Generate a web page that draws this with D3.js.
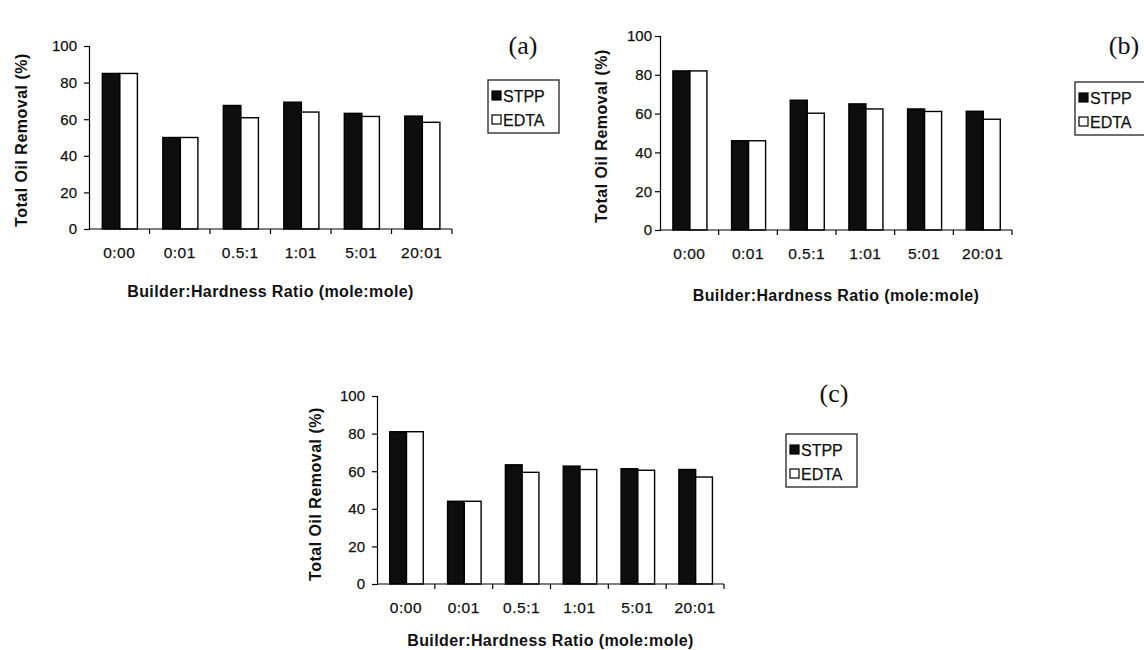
<!DOCTYPE html>
<html>
<head>
<meta charset="utf-8">
<script src="https://cdn.jsdelivr.net/npm/d3@7"></script>
<style>
body { margin: 0; background: #fff; }
svg { display: block; }
text { font-family: Arial, "Liberation Sans", sans-serif; fill: #111; }
.tick text, .leg-text { stroke: #111; stroke-width: 0.25px; }
</style>
</head>
<body>
<svg id="chart" width="1144" height="650"></svg>
<script>
var ratios = ["0:00", "0:01", "0.5:1", "1:01", "5:01", "20:01"];
var series = ["STPP", "EDTA"];
var yTicks = [0, 20, 40, 60, 80, 100];

// total oil removal (%)
var stppA = [85, 50, 67.5, 69.3, 63.2, 61.7];
var edtaA = [85, 50, 60.8, 63.9, 61.5, 58.3];
var stppB = [82, 46, 66.9, 65.0, 62.4, 61.2];
var edtaB = [82, 46, 60.2, 62.4, 61.1, 57.1];
var stppC = [81, 44, 63.4, 62.7, 61.3, 60.9];
var edtaC = [81, 44, 59.4, 60.9, 60.5, 56.9];

var panelNames = ["(a)", "(b)", "(c)"];

var svg = d3.select("#chart");
var fills = { STPP: "#0e0e0e", EDTA: "#ffffff" };

// frame of each panel: x extent of axis, y of 0 and 100, legend & label spots
var panels = [
	{ name: panelNames[0], stpp: stppA, edta: edtaA, x0: 89, x1: 452, yb: 229, yt: 46,
	  tickGap: 12, ylabX: 21, ylabY: 140, tickY: 259, titleY: 297,
	  leg: [488, 80], lab: [523, 54] },
	{ name: panelNames[1], stpp: stppB, edta: edtaB, x0: 660, x1: 1012, yb: 230, yt: 36,
	  tickGap: 8, ylabX: 601, ylabY: 136, tickY: 260, titleY: 301,
	  leg: [1075, 82], lab: [1124, 54] },
	{ name: panelNames[2], stpp: stppC, edta: edtaC, x0: 377, x1: 724, yb: 584, yt: 396,
	  tickGap: 12, ylabX: 315, ylabY: 494, tickY: 614, titleY: 646,
	  leg: [786, 434], lab: [834, 402] }
];

panels.forEach(drawPanel);

function drawPanel(p) {
	var g = svg.append("g");

	var x = d3.scaleBand().domain(ratios).range([p.x0, p.x1]);
	var xs = d3.scaleBand().domain(series)
		.range([x.bandwidth() * 0.22, x.bandwidth() * 0.8]);
	var y = d3.scaleLinear().domain([0, 100]).range([p.yb, p.yt]);

	var rows = ratios.map(function(r, i) {
		return { ratio: r, STPP: p.stpp[i], EDTA: p.edta[i] };
	});

	// bars
	var grp = g.selectAll(".grp").data(rows).enter().append("g")
		.attr("transform", function(d) { return "translate(" + x(d.ratio) + ",0)"; });
	grp.selectAll("rect")
		.data(function(d) { return series.map(function(s) { return { key: s, value: d[s] }; }); })
		.enter().append("rect")
			.attr("x", function(d) { return xs(d.key); })
			.attr("y", function(d) { return y(d.value); })
			.attr("width", xs.bandwidth())
			.attr("height", function(d) { return y(0) - y(d.value); })
			.attr("fill", function(d) { return fills[d.key]; })
			.attr("stroke", "#000")
			.attr("stroke-width", 1.4);

	// y axis
	var yAxis = g.append("g")
		.attr("transform", "translate(" + p.x0 + ",0)")
		.call(d3.axisLeft(y).tickValues(yTicks).tickSize(5).tickPadding(p.tickGap - 5));
	yAxis.selectAll("text").style("font-size", "15px");

	// x axis: line, boundary ticks and labels
	var xAxis = g.append("g")
		.attr("transform", "translate(0," + p.yb + ")")
		.call(d3.axisBottom(x).tickSize(0).tickPadding(p.tickY - p.yb - 12));
	xAxis.selectAll("text").style("font-size", "15.5px").attr("letter-spacing", "0.5px");
	xAxis.select(".domain").remove();
	xAxis.append("line").attr("x1", p.x0).attr("x2", p.x1).attr("stroke", "#000").attr("stroke-width", 1.2);
	xAxis.selectAll(".bound").data(ratios.slice(1).concat(["end"])).enter().append("line")
		.attr("x1", function(d) { return d === "end" ? p.x1 : x(d); })
		.attr("x2", function(d) { return d === "end" ? p.x1 : x(d); })
		.attr("y1", 0).attr("y2", 5)
		.attr("stroke", "#000").attr("stroke-width", 1.2);
	g.selectAll(".domain, .tick line").attr("stroke-width", 1.2);

	// axis titles
	g.append("text")
		.attr("x", (p.x0 + p.x1) / 2).attr("y", p.titleY)
		.attr("text-anchor", "middle")
		.style("font-size", "16px").style("font-weight", "bold")
		.attr("letter-spacing", "0.4px")
		.text("Builder:Hardness Ratio (mole:mole)");
	g.append("text")
		.attr("transform", "translate(" + p.ylabX + "," + p.ylabY + ") rotate(-90)")
		.attr("text-anchor", "middle").attr("dy", "0.35em")
		.style("font-size", "16px").style("font-weight", "bold")
		.attr("letter-spacing", "0.5px")
		.text("Total Oil Removal (%)");

	// panel label
	g.append("text")
		.attr("x", p.lab[0]).attr("y", p.lab[1])
		.attr("text-anchor", "middle")
		.style("font-family", "'Liberation Serif', 'Times New Roman', serif")
		.style("font-size", "26px")
		.text(p.name);

	// legend
	var leg = g.append("g").attr("transform", "translate(" + p.leg[0] + "," + p.leg[1] + ")");
	leg.append("rect").attr("width", 71).attr("height", 53)
		.attr("fill", "#fff").attr("stroke", "#222").attr("stroke-width", 1.3);
	var item = leg.selectAll(".item").data(series).enter().append("g")
		.attr("transform", function(d, i) { return "translate(4," + (16 + i * 24) + ")"; });
	item.append("rect").attr("x", 0).attr("y", -5).attr("width", 9).attr("height", 9)
		.attr("fill", function(d) { return fills[d]; })
		.attr("stroke", "#000").attr("stroke-width", 1.2);
	item.append("text").attr("class", "leg-text").attr("x", 11).attr("dy", "0.35em")
		.style("font-size", "16px")
		.text(function(d) { return d; });
}
</script>
</body>
</html>
